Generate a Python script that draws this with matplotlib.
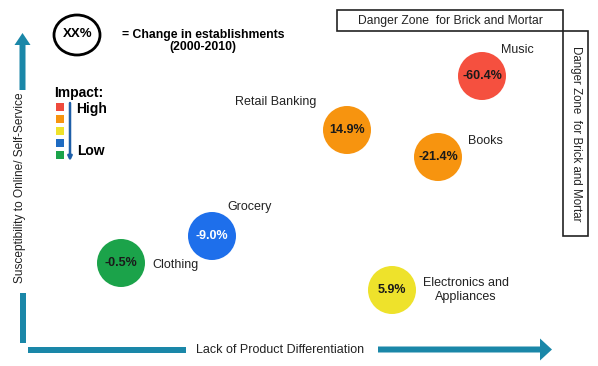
import matplotlib
matplotlib.use("Agg")
import matplotlib.pyplot as plt
from matplotlib.patches import Circle, Ellipse, Rectangle, FancyArrow

plt.rcParams['font.family'] = ['Liberation Sans', 'DejaVu Sans']

# ---- data (positions on a 0-598 x 0-366 canvas-like scale, y downward) ----
categories = ["Music", "Retail Banking", "Books", "Grocery", "Clothing", "Electronics and\nAppliances"]
x_diff = [482, 347, 438, 212, 121, 392]      # lack of product differentiation
y_susc = [76, 130, 157, 236, 263, 290]       # susceptibility (screen y, downward)
changes = ["-60.4%", "14.9%", "-21.4%", "-9.0%", "-0.5%", "5.9%"]
colors = ["#F5503F", "#F7940F", "#F7940F", "#1E6FEB", "#1BA34A", "#EEE22B"]
text_colors = ["#1a1a1a", "#1a1a1a", "#1a1a1a", "white", "#1a1a1a", "#1a1a1a"]
label_x = [501, 316, 468, 227, 152, 466]
label_y = [50, 102, 141, 207, 265, 290]
label_ha = ["left", "right", "left", "left", "left", "center"]

impact_colors = ["#EF4B3D", "#F7940F", "#EEE22B", "#1E6BC2", "#1BA34A"]

W, H = 598, 366
fig = plt.figure(figsize=(W / 100, H / 100), dpi=100)
ax = fig.add_axes([0, 0, 1, 1])
ax.set_xlim(0, W)
ax.set_ylim(H, 0)
ax.set_aspect('equal')
ax.axis('off')

teal = "#1A87A8"
R = 24

# bubbles
for xi, yi, ch, c, tc in zip(x_diff, y_susc, changes, colors, text_colors):
    ax.add_patch(Circle((xi, yi), R, facecolor=c, edgecolor='none', zorder=2))
    ax.text(xi, yi, ch, ha='center', va='center', fontsize=9, fontweight='bold',
            color=tc, zorder=3)

for lab, lx, ly, ha in zip(categories, label_x, label_y, label_ha):
    ax.text(lx, ly, lab, ha=ha, va='center', fontsize=9, color='#222222',
            linespacing=1.15)

# axes arrows
# vertical
ax.add_patch(Rectangle((19.5, 293), 6, 50, facecolor=teal, edgecolor='none'))
ax.add_patch(FancyArrow(22.5, 90, 0, -57, width=6, head_width=16, head_length=12,
                        length_includes_head=True, facecolor=teal, edgecolor='none'))
ax.text(20, 188, "Susceptibility to Online/ Self-Service", rotation=90, ha='center',
        va='center', fontsize=8.6, color='#222222')
# horizontal
ax.add_patch(Rectangle((28, 346.5), 158, 6, facecolor=teal, edgecolor='none'))
ax.add_patch(FancyArrow(378, 349.5, 174, 0, width=6, head_width=22, head_length=12,
                        length_includes_head=True, facecolor=teal, edgecolor='none'))
ax.text(280, 350, "Lack of Product Differentiation", ha='center', va='center',
        fontsize=9, color='#222222')

# legend bubble
ax.add_patch(Ellipse((77, 35), 46, 40, facecolor='white', edgecolor='black', lw=2))
ax.text(78, 37, "XX%", ha='center', va='baseline', fontsize=9.5, fontweight='bold')
ax.text(122, 38, "= Change in establishments", ha='left', va='baseline', fontsize=8.8,
        fontweight='bold')
ax.text(203, 50, "(2000-2010)", ha='center', va='baseline', fontsize=8.8, fontweight='bold')

# impact legend
ax.text(54, 97, "Impact:", ha='left', va='baseline', fontsize=10, fontweight='bold')
for i, c in enumerate(impact_colors):
    ax.add_patch(Rectangle((56, 103 + 12 * i), 8, 8, facecolor=c, edgecolor='none'))
ax.annotate("", xy=(70, 161), xytext=(70, 103),
            arrowprops=dict(arrowstyle='-|>', color='#1E5FA8', lw=1.8,
                            mutation_scale=6, shrinkA=0, shrinkB=0))
ax.text(76, 113, "High", ha='left', va='baseline', fontsize=10, fontweight='bold')
ax.text(77, 155, "Low", ha='left', va='baseline', fontsize=10, fontweight='bold')

# danger zone boxes
ax.add_patch(Rectangle((337, 10), 226, 21, facecolor='white', edgecolor='#222222', lw=1.2))
ax.text(450, 21, "Danger Zone  for Brick and Mortar", ha='center', va='center',
        fontsize=8.7, color='#222222')
ax.add_patch(Rectangle((563, 31), 25, 205, facecolor='white', edgecolor='#222222', lw=1.2))
ax.text(575.5, 134, "Danger Zone  for Brick and Mortar", ha='center', va='center',
        rotation=-90, fontsize=8.3, color='#222222')

fig.savefig("out.png", dpi=100)
